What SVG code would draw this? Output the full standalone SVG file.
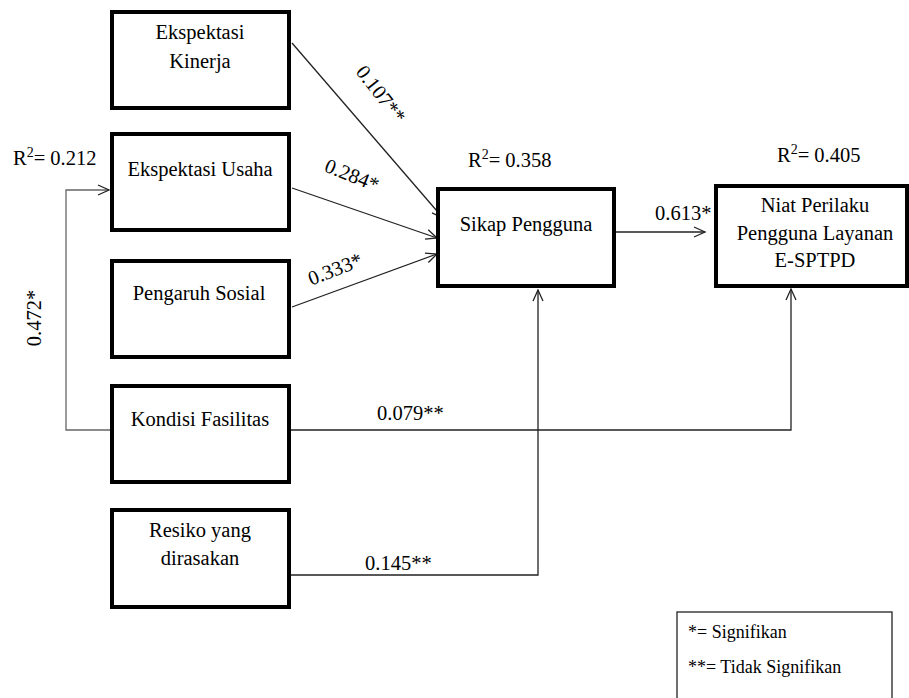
<svg xmlns="http://www.w3.org/2000/svg" width="909" height="698" viewBox="0 0 909 698" font-family="'Liberation Serif', 'DejaVu Serif', serif">
  <style>
    .box { fill: #fff; stroke: #000; stroke-width: 4; }
    .t { font-family: 'Liberation Serif', 'DejaVu Serif', serif; font-size: 20.5px; fill: #000; }
    .c { text-anchor: middle; }
    .ln { fill: none; stroke: #222; stroke-width: 1.3; }
    .gray { stroke: #666; }
    .lg { font-family: 'Liberation Serif', 'DejaVu Serif', serif; font-size: 18px; fill: #000; }
  </style>
  <defs>
    <marker id="arr" markerUnits="userSpaceOnUse" markerWidth="14" markerHeight="14" refX="12" refY="6" orient="auto" viewBox="0 0 14 12">
      <path d="M1,1 L12,6 L1,11" fill="none" stroke="#222" stroke-width="1.3"/>
    </marker>
  </defs>
  <rect width="909" height="698" fill="#fff"/>

  <g id="connectors">
    <line class="ln" x1="292" y1="43" x2="443" y2="218" marker-end="url(#arr)"/>
    <line class="ln" x1="292" y1="188" x2="437" y2="238" marker-end="url(#arr)"/>
    <line class="ln" x1="292" y1="307" x2="437" y2="254" marker-end="url(#arr)"/>
    <line class="ln" x1="616" y1="232" x2="705" y2="232" marker-end="url(#arr)"/>
    <polyline class="ln gray" points="110,430 66,430 66,190 109,190" marker-end="url(#arr)"/>
    <polyline class="ln" points="290,430 791,430 791,289" marker-end="url(#arr)"/>
    <polyline class="ln" points="290,575 538,575 538,290" marker-end="url(#arr)"/>
  </g>

  <g id="labels">
    <text class="t" x="13" y="165">R<tspan dy="-8" font-size="14">2</tspan><tspan dy="8">= 0.212</tspan></text>
    <text class="t" x="468" y="167">R<tspan dy="-8" font-size="14">2</tspan><tspan dy="8">= 0.358</tspan></text>
    <text class="t" x="777" y="162">R<tspan dy="-8" font-size="14">2</tspan><tspan dy="8">= 0.405</tspan></text>
    <text class="t c" transform="translate(381,94) rotate(52)" y="7">0.107**</text>
    <text class="t c" transform="translate(352,175) rotate(22)" y="7">0.284*</text>
    <text class="t c" transform="translate(335,269) rotate(-21)" y="7">0.333*</text>
    <text class="t c" transform="translate(34,318) rotate(-90)" y="7">0.472*</text>
    <text class="t" x="655" y="220">0.613*</text>
    <text class="t" x="377" y="420">0.079**</text>
    <text class="t" x="365" y="570">0.145**</text>
  </g>

  <g id="ekspektasi-kinerja">
    <rect class="box" x="112" y="12" width="177" height="96"/>
    <text class="t c" x="200" y="39">Ekspektasi</text>
    <text class="t c" x="200" y="68">Kinerja</text>
  </g>
  <g id="ekspektasi-usaha">
    <rect class="box" x="112" y="134" width="177" height="96"/>
    <text class="t c" x="200" y="176">Ekspektasi Usaha</text>
  </g>
  <g id="pengaruh-sosial">
    <rect class="box" x="112" y="261" width="177" height="96"/>
    <text class="t c" x="199" y="300">Pengaruh Sosial</text>
  </g>
  <g id="kondisi-fasilitas">
    <rect class="box" x="112" y="386" width="177" height="96"/>
    <text class="t c" x="200" y="426">Kondisi Fasilitas</text>
  </g>
  <g id="resiko">
    <rect class="box" x="112" y="510" width="177" height="97"/>
    <text class="t c" x="200" y="537">Resiko yang</text>
    <text class="t c" x="200" y="565">dirasakan</text>
  </g>
  <g id="sikap-pengguna">
    <rect class="box" x="438" y="189" width="176" height="97"/>
    <text class="t c" x="526" y="231">Sikap Pengguna</text>
  </g>
  <g id="niat-perilaku">
    <rect class="box" x="716" y="186" width="191" height="100"/>
    <text class="t c" x="815" y="212">Niat Perilaku</text>
    <text class="t c" x="815" y="240">Pengguna Layanan</text>
    <text class="t c" x="815" y="267">E-SPTPD</text>
  </g>
  <g id="legend">
    <rect x="677" y="612" width="215" height="100" fill="#fff" stroke="#222" stroke-width="1.3"/>
    <text class="lg" x="688" y="638">*= Signifikan</text>
    <text class="lg" x="688" y="673">**= Tidak Signifikan</text>
  </g>
</svg>
